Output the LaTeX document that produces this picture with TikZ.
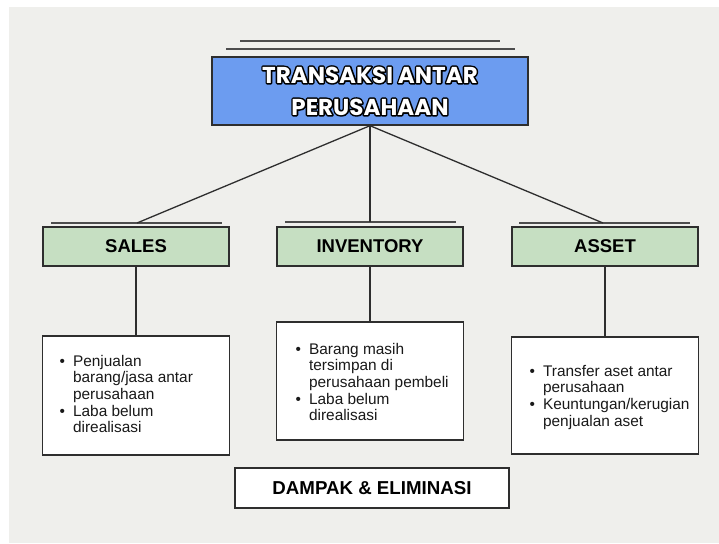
\documentclass[tikz,border=0pt]{standalone}
\usepackage{fontspec}
\setmainfont{Liberation Sans}
\newfontfamily\judulfont{Poppins}[UprightFont=* Bold]
\usetikzlibrary{positioning}

\definecolor{kertas}{HTML}{EFEFEC}
\definecolor{biru}{HTML}{6C9CF0}
\definecolor{hijau}{HTML}{C6DFC2}
\definecolor{garis}{HTML}{2E2E2E}

% white letters with a black outline: stroked copy under a filled copy
\newcommand{\judul}[1]{\makebox[0pt][l]{\special{pdf:literal direct 1 Tr 3 w 0 0 0 RG 1 j}#1\special{pdf:literal direct 0 Tr}}\textcolor{white}{#1}}

\begin{document}
\begin{tikzpicture}[x=1pt, y=-1pt,
  box_title/.style={draw=garis, line width=1.4pt, fill=biru, minimum width=316pt, minimum height=68pt, align=center, inner sep=0pt},
  box_head/.style={draw=garis, line width=1.4pt, fill=hijau, minimum width=186pt, minimum height=39pt, inner sep=0pt, font=\fontsize{18.5}{20}\selectfont\bfseries},
  box_info/.style={draw=garis, line width=1.3pt, fill=white, minimum width=187pt, minimum height=118pt, inner sep=0pt},
  info_text/.style={anchor=base west, inner sep=0pt, text=black!90, font=\fontsize{15.4}{16.7}\selectfont},
  box_out/.style={draw=garis, line width=1.4pt, fill=white, minimum width=274pt, minimum height=40pt, inner sep=0pt, font=\fontsize{18.7}{20}\selectfont\bfseries},
  link/.style={draw=garis, line width=1.3pt},
  rule/.style={draw=garis!85, line width=1.3pt}]

% background paper
\fill[white] (0,0) rectangle (719,543);
\fill[kertas] (9,7) rectangle (719,543);
\useasboundingbox (0,0) rectangle (719,543);

% title
\coordinate (t1a) at (240,41);
\coordinate (t1b) at (500,41);
\coordinate (t2a) at (226,49);
\coordinate (t2b) at (515,49);
\draw[rule] (t1a) -- (t1b);
\draw[rule] (t2a) -- (t2b);
\node[box_title, font=\judulfont\fontsize{23}{32}\selectfont] (judul) at (370,91)
  {\judul{TRANSAKSI ANTAR}\\\judul{PERUSAHAAN}};

% headers
\node[box_head] (sales) at (136,246.5) {SALES};
\node[box_head] (inventory) at (370,246.5) {INVENTORY};
\node[box_head] (asset) at (605,246.5) {ASSET};

\coordinate (salesL) at (51,223);
\coordinate (salesR) at (222,223);
\coordinate (salesTop) at (137,223);
\coordinate (invL) at (285,222);
\coordinate (invR) at (456,222);
\coordinate (invTop) at (370,222);
\coordinate (assetL) at (519,223);
\coordinate (assetR) at (690,223);
\coordinate (assetTop) at (603,223);

\draw[rule] (salesL) -- (salesR);
\draw[rule] (invL) -- (invR);
\draw[rule] (assetL) -- (assetR);

\draw[link] (judul.south) -- (salesTop);
\draw[link] (judul.south) -- (invTop);
\draw[link] (judul.south) -- (assetTop);

% details
\node[box_info, minimum height=119pt] (salesInfo) at (136,395.5) {};
\node[box_info] (invInfo) at (370,381) {};
\node[box_info, minimum height=117pt] (assetInfo) at (605,395.5) {};

\node[info_text] (salesText) at (59.5,366) {%
  \begin{tabular}[t]{@{}l@{\hspace{8pt}}l@{}}
  \textbullet & Penjualan\\
  & barang/jasa antar\\
  & perusahaan\\
  \textbullet & Laba belum\\
  & direalisasi
  \end{tabular}};
\node[info_text] (invText) at (295.5,354) {%
  \begin{tabular}[t]{@{}l@{\hspace{8pt}}l@{}}
  \textbullet & Barang masih\\
  & tersimpan di\\
  & perusahaan pembeli\\
  \textbullet & Laba belum\\
  & direalisasi
  \end{tabular}};
\node[info_text] (assetText) at (529.5,376) {%
  \begin{tabular}[t]{@{}l@{\hspace{8pt}}l@{}}
  \textbullet & Transfer aset antar\\
  & perusahaan\\
  \textbullet & Keuntungan/kerugian\\
  & penjualan aset
  \end{tabular}};

\draw[link] (sales.south) -- (salesInfo.north);
\draw[link] (inventory.south) -- (invInfo.north);
\draw[link] (asset.south) -- (assetInfo.north);

% bottom
\node[box_out] (dampak) at (372,488) {DAMPAK \& ELIMINASI};

\end{tikzpicture}
\end{document}
